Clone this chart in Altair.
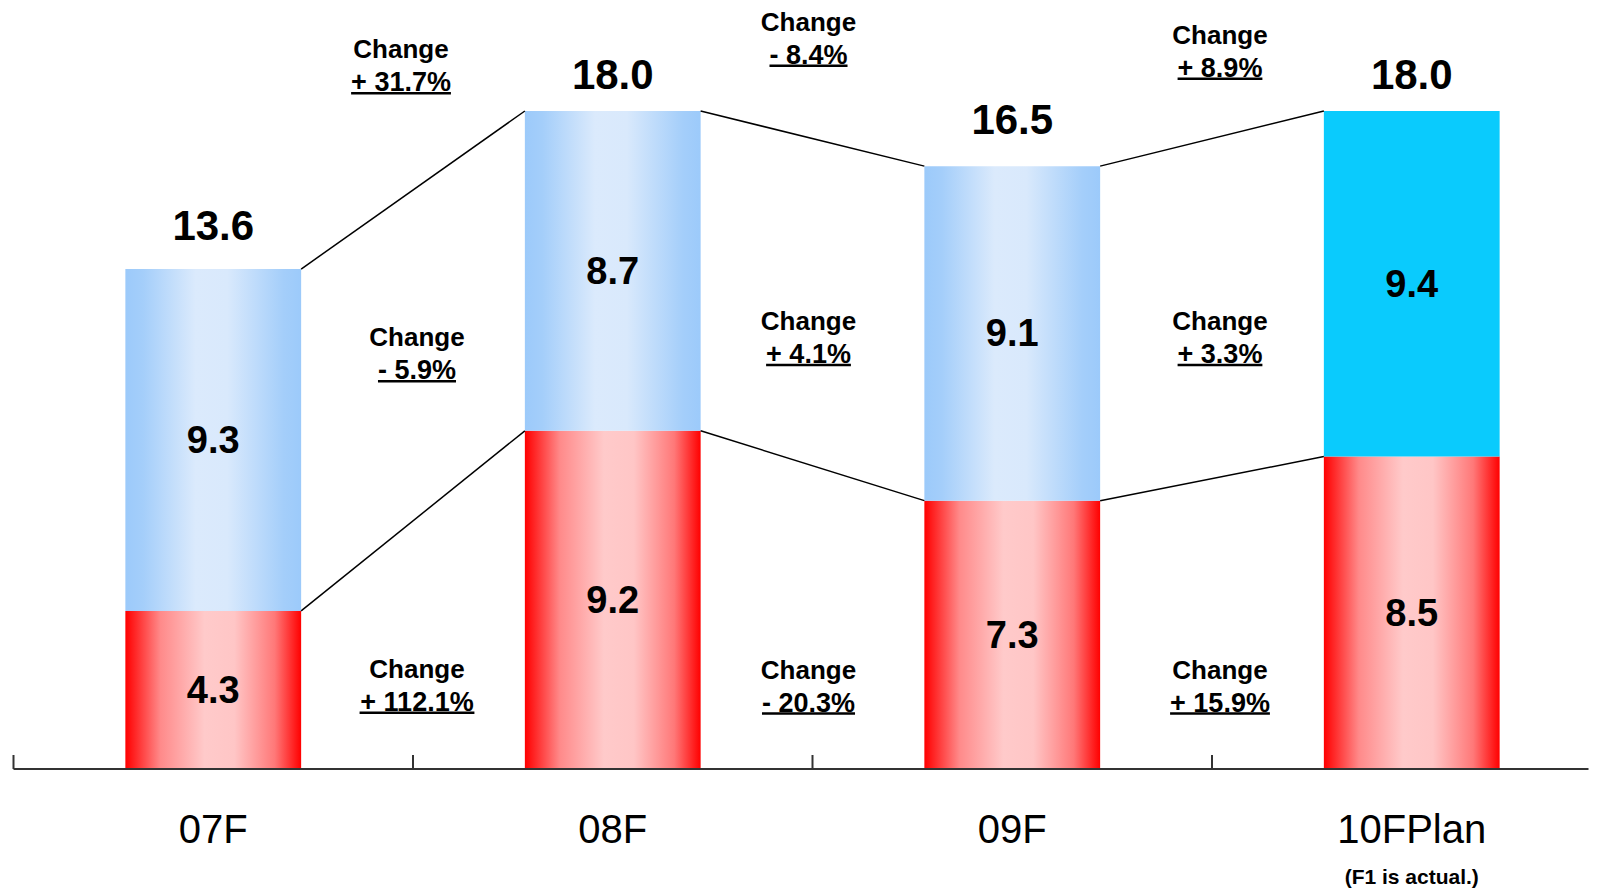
import altair as alt
import pandas as pd

# ---------------- data ----------------
categories = ["07F", "08F", "09F", "10FPlan"]
red_values = [4.3, 9.2, 7.3, 8.5]
blue_values = [9.3, 8.7, 9.1, 9.4]
total_labels = ["13.6", "18.0", "16.5", "18.0"]
red_labels = ["4.3", "9.2", "7.3", "8.5"]
blue_labels = ["9.3", "8.7", "9.1", "9.4"]
total_change = ["+ 31.7%", "- 8.4%", "+ 8.9%"]
blue_change = ["- 5.9%", "+ 4.1%", "+ 3.3%"]
red_change = ["+ 112.1%", "- 20.3%", "+ 15.9%"]
change_word = "Change"
note = "(F1 is actual.)"

# ---------------- layout ----------------
PX_PER_X = 399.5
W = 1575
H = 755
PX_PER_Y = 36.76
YMAX = H / PX_PER_Y
HALF = 0.22
FONT = "Liberation Sans"

total_label_y = [14.8, 18.9, 17.67, 18.9]
top_change_x = [0.47, 1.49, 2.52]
top_change_y = [19.59, 20.34, 19.99]
mid_change_x = [0.51, 1.49, 2.52]
mid_change_y = [11.76, 12.20, 12.20]
bot_change_x = [0.51, 1.49, 2.52]
bot_change_y = [2.74, 2.72, 2.72]
PCT_DY = 33
UNDER_DY = 43
PCT_SIZE = 27

xs = alt.Scale(domain=[-0.5, -0.5 + W / PX_PER_X], nice=False, zero=False)
ys = alt.Scale(domain=[0, YMAX], nice=False, zero=False)

pos = list(range(len(categories)))
totals = [r + b for r, b in zip(red_values, blue_values)]

bars = pd.DataFrame({
    "cat": categories,
    "pos": pos,
    "x0": [p - HALF for p in pos],
    "x1": [p + HALF for p in pos],
    "zero": [0.0] * 4,
    "red": red_values,
    "total": totals,
    "red_mid": [r / 2 for r in red_values],
    "blue_mid": [r + b / 2 for r, b in zip(red_values, blue_values)],
    "red_lab": red_labels,
    "blue_lab": blue_labels,
    "tot_lab": total_labels,
    "tot_y": total_label_y,
})

red_grad = alt.Gradient(
    gradient="linear", x1=0, x2=1, y1=0, y2=0,
    stops=[
        alt.GradientStop(color="#ff0000", offset=0),
        alt.GradientStop(color="#ff8a8a", offset=0.2),
        alt.GradientStop(color="#ffcaca", offset=0.45),
        alt.GradientStop(color="#ffc6c6", offset=0.62),
        alt.GradientStop(color="#ff7878", offset=0.85),
        alt.GradientStop(color="#ff0000", offset=1),
    ],
)
blue_grad = alt.Gradient(
    gradient="linear", x1=0, x2=1, y1=0, y2=0,
    stops=[
        alt.GradientStop(color="#9ccafa", offset=0),
        alt.GradientStop(color="#a4cefa", offset=0.1),
        alt.GradientStop(color="#dbeafc", offset=0.4),
        alt.GradientStop(color="#d9e9fc", offset=0.58),
        alt.GradientStop(color="#a4cefa", offset=0.9),
        alt.GradientStop(color="#9ccafa", offset=1),
    ],
)

base = alt.Chart(bars)

red_bar = base.mark_bar(color=red_grad).encode(
    x=alt.X("x0:Q", scale=xs, axis=None), x2="x1:Q",
    y=alt.Y("zero:Q", scale=ys, axis=None), y2="red:Q",
)
blue_bar = base.transform_filter("datum.pos < 3").mark_bar(color=blue_grad).encode(
    x=alt.X("x0:Q", scale=xs, axis=None), x2="x1:Q",
    y=alt.Y("red:Q", scale=ys, axis=None), y2="total:Q",
)
plan_bar = base.transform_filter("datum.pos == 3").mark_bar(color="#0acbfd").encode(
    x=alt.X("x0:Q", scale=xs, axis=None), x2="x1:Q",
    y=alt.Y("red:Q", scale=ys, axis=None), y2="total:Q",
)

# connecting lines
seg_rows = []
for i in range(len(categories) - 1):
    for key in (totals, red_values):
        seg_rows.append({"x": pos[i] + HALF, "x2": pos[i + 1] - HALF,
                         "y": key[i], "y2": key[i + 1]})
segs = alt.Chart(pd.DataFrame(seg_rows)).mark_rule(color="black", strokeWidth=1.5).encode(
    x=alt.X("x:Q", scale=xs, axis=None), x2="x2:Q",
    y=alt.Y("y:Q", scale=ys, axis=None), y2="y2:Q",
)

NUM_DY = 2
red_txt = base.mark_text(font=FONT, fontSize=38, fontWeight="bold", color="black",
                         baseline="middle", dy=NUM_DY).encode(
    x=alt.X("pos:Q", scale=xs, axis=None), y=alt.Y("red_mid:Q", scale=ys, axis=None),
    text="red_lab:N")
blue_txt = base.mark_text(font=FONT, fontSize=38, fontWeight="bold", color="black",
                          baseline="middle", dy=NUM_DY).encode(
    x=alt.X("pos:Q", scale=xs, axis=None), y=alt.Y("blue_mid:Q", scale=ys, axis=None),
    text="blue_lab:N")
tot_txt = base.mark_text(font=FONT, fontSize=42, fontWeight="bold", color="black",
                         baseline="middle", dy=NUM_DY).encode(
    x=alt.X("pos:Q", scale=xs, axis=None), y=alt.Y("tot_y:Q", scale=ys, axis=None),
    text="tot_lab:N")

# change annotations
BOLD_W = {"+": 0.584, "-": 0.333, " ": 0.278, ".": 0.278, "%": 0.889}
def text_w(s, size):
    return sum(BOLD_W.get(c, 0.556) for c in s) * size

ann_rows = []
for xs_list, ys_list, labels in ((top_change_x, top_change_y, total_change),
                                  (mid_change_x, mid_change_y, blue_change),
                                  (bot_change_x, bot_change_y, red_change)):
    for cx, cy, lab in zip(xs_list, ys_list, labels):
        hw = text_w(lab, PCT_SIZE) / 2 / PX_PER_X
        ann_rows.append({"x": cx, "y": cy, "pct": lab, "word": change_word,
                         "ux0": cx - hw, "ux1": cx + hw,
                         "uy": cy - (UNDER_DY + 1.5) / PX_PER_Y})
ann = alt.Chart(pd.DataFrame(ann_rows))
word_txt = ann.mark_text(font=FONT, fontSize=26, fontWeight="bold", color="black",
                         baseline="middle", dy=1.5).encode(
    x=alt.X("x:Q", scale=xs, axis=None), y=alt.Y("y:Q", scale=ys, axis=None), text="word:N")
pct_txt = ann.mark_text(font=FONT, fontSize=PCT_SIZE, fontWeight="bold", color="black",
                        baseline="middle", dy=PCT_DY + 1.5).encode(
    x=alt.X("x:Q", scale=xs, axis=None), y=alt.Y("y:Q", scale=ys, axis=None), text="pct:N")
underline = ann.mark_rule(color="black", strokeWidth=2.5).encode(
    x=alt.X("ux0:Q", scale=xs, axis=None), x2="ux1:Q",
    y=alt.Y("uy:Q", scale=ys, axis=None))

# axis
axis_line = alt.Chart(pd.DataFrame({"a": [0]})).mark_rule(color="#333333", strokeWidth=2).encode(
    x=alt.value(0), x2=alt.value(W), y=alt.value(H))
ticks = alt.Chart(pd.DataFrame({"b": [p - 0.5 for p in pos]})).mark_rule(
    color="#333333", strokeWidth=2).encode(
    x=alt.X("b:Q", scale=xs, axis=None), y=alt.value(H), y2=alt.value(H - 14))
cat_txt = base.mark_text(font=FONT, fontSize=40, color="black", baseline="middle").encode(
    x=alt.X("pos:Q", scale=xs, axis=None), y=alt.value(H + 62), text="cat:N")
note_txt = alt.Chart(pd.DataFrame({"n": [note], "p": [pos[-1]]})).mark_text(
    font=FONT, fontSize=21, fontWeight="bold", color="black", baseline="middle").encode(
    x=alt.X("p:Q", scale=xs, axis=None), y=alt.value(H + 109), text="n:N")

chart = alt.layer(
    red_bar, blue_bar, plan_bar, segs, axis_line, ticks,
    red_txt, blue_txt, tot_txt, word_txt, pct_txt, underline, cat_txt, note_txt,
).properties(
    width=W, height=H,
    background="white",
    autosize=alt.AutoSizeParams(type="none"),
    padding={"left": 5.5, "top": 6, "right": 0, "bottom": 119},
).configure_view(strokeWidth=0, stroke="transparent")

chart.save("out.html", embed_options={"renderer": "svg", "actions": False})
